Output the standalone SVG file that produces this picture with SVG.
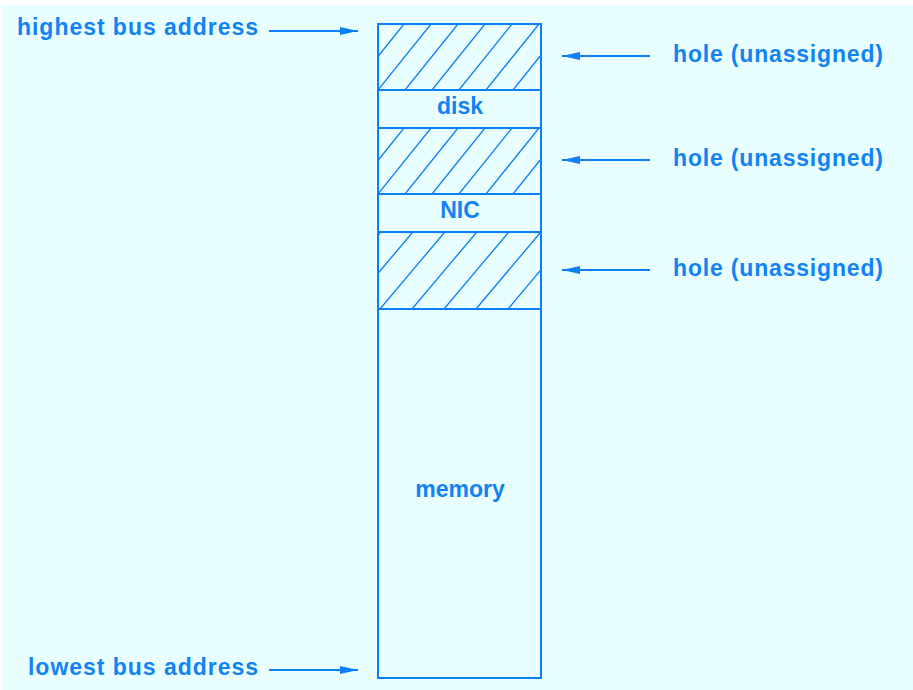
<svg xmlns="http://www.w3.org/2000/svg" width="913" height="690" viewBox="0 0 913 690">
  <style>
    .lbl { font-family: "Liberation Sans", Arial, sans-serif; font-weight: bold; font-size: 23px; fill: #1282f5; }
    .mid { text-anchor: middle; }
    .box { fill: none; stroke: #0a7ff8; stroke-width: 2; }
    .hatch { stroke: #0a7ff8; stroke-width: 1.3; fill: none; }
    .conn { stroke: #0a7ff8; stroke-width: 2; fill: none; }
  </style>
  <defs>
    <marker id="arrow" viewBox="0 0 18 8" refX="18" refY="4" markerWidth="18" markerHeight="8" markerUnits="userSpaceOnUse" orient="auto">
      <path d="M0,0 L18,4 L0,8 Z" fill="#0a7ff8"/>
    </marker>
    <clipPath id="clipHole1"><rect x="378" y="24" width="163" height="66"/></clipPath>
    <clipPath id="clipHole2"><rect x="378" y="128" width="163" height="66"/></clipPath>
    <clipPath id="clipHole3"><rect x="378" y="232" width="163" height="77"/></clipPath>
  </defs>

  <!-- backdrop -->
  <rect x="0" y="0" width="913" height="690" fill="#ffffff"/>
  <rect x="1" y="5" width="912" height="685" fill="#e9fefe"/>

  <!-- address map column -->
  <g id="hole-top">
    <g clip-path="url(#clipHole1)" class="hatch">
      <path d="M324,90 L377,24 M351,90 L404,24 M378,90 L431,24 M405,90 L458,24 M432,90 L485,24 M459,90 L512,24 M486,90 L539,24 M513,90 L566,24 M540,90 L593,24"/>
    </g>
    <rect class="box" x="378" y="24" width="163" height="66"/>
  </g>
  <g id="disk">
    <rect class="box" x="378" y="90" width="163" height="38"/>
    <text class="lbl mid" x="460" y="114">disk</text>
  </g>
  <g id="hole-middle">
    <g clip-path="url(#clipHole2)" class="hatch">
      <path d="M324,194 L377,128 M351,194 L404,128 M378,194 L431,128 M405,194 L458,128 M432,194 L485,128 M459,194 L512,128 M486,194 L539,128 M513,194 L566,128 M540,194 L593,128"/>
    </g>
    <rect class="box" x="378" y="128" width="163" height="66"/>
  </g>
  <g id="nic">
    <rect class="box" x="378" y="194" width="163" height="38"/>
    <text class="lbl mid" x="460" y="218">NIC</text>
  </g>
  <g id="hole-bottom">
    <g clip-path="url(#clipHole3)" class="hatch">
      <path d="M316,309 L380,233 M348,309 L412,233 M380,309 L444,233 M412,309 L476,233 M444,309 L508,233 M476,309 L540,233 M508,309 L572,233 M540,309 L604,233"/>
    </g>
    <rect class="box" x="378" y="232" width="163" height="77"/>
  </g>
  <g id="memory">
    <rect class="box" x="378" y="309" width="163" height="369"/>
    <text class="lbl mid" x="460" y="497">memory</text>
  </g>

  <!-- side labels -->
  <g id="label-highest">
    <text class="lbl" x="17" y="35" textLength="241" lengthAdjust="spacing">highest bus address</text>
  </g>
  <g id="label-lowest">
    <text class="lbl" x="28" y="675" textLength="230" lengthAdjust="spacing">lowest bus address</text>
  </g>
  <g id="label-hole-1">
    <text class="lbl" x="673" y="62" textLength="210" lengthAdjust="spacing">hole (unassigned)</text>
  </g>
  <g id="label-hole-2">
    <text class="lbl" x="673" y="166" textLength="210" lengthAdjust="spacing">hole (unassigned)</text>
  </g>
  <g id="label-hole-3">
    <text class="lbl" x="673" y="276" textLength="210" lengthAdjust="spacing">hole (unassigned)</text>
  </g>

  <!-- pointers -->
  <g id="connectors">
    <line class="conn" x1="269" y1="31" x2="358" y2="31" marker-end="url(#arrow)"/>
    <line class="conn" x1="269" y1="670" x2="358" y2="670" marker-end="url(#arrow)"/>
    <line class="conn" x1="650" y1="56" x2="562" y2="56" marker-end="url(#arrow)"/>
    <line class="conn" x1="650" y1="160" x2="562" y2="160" marker-end="url(#arrow)"/>
    <line class="conn" x1="650" y1="270" x2="562" y2="270" marker-end="url(#arrow)"/>
  </g>
</svg>
